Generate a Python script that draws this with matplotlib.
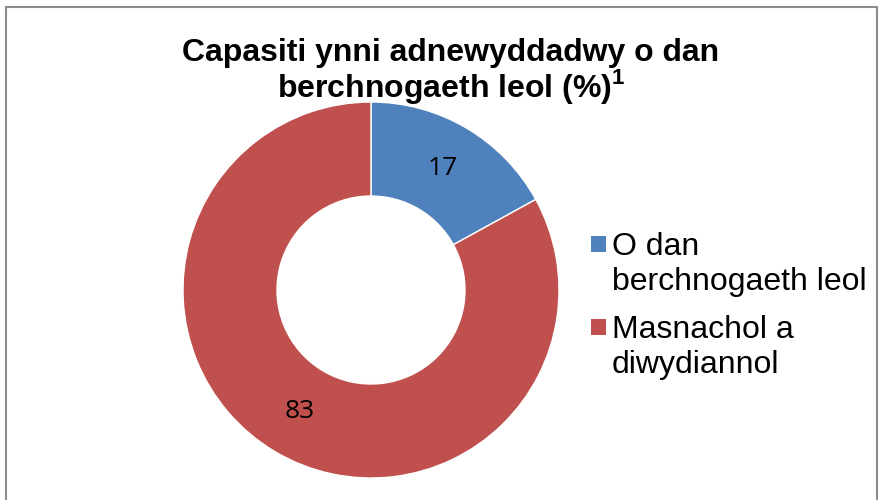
import matplotlib
matplotlib.use("Agg")
import matplotlib.pyplot as plt
from matplotlib.patches import Rectangle

plt.rcParams.update({
    "font.family": "Liberation Sans",
    "mathtext.fontset": "custom",
    "mathtext.rm": "Liberation Sans",
    "mathtext.bf": "Liberation Sans:bold",
})

categories = ["O dan\nberchnogaeth leol", "Masnachol a\ndiwydiannol"]
values = [17, 83]
colors = ["#4F81BD", "#C0504D"]
title = "Capasiti ynni adnewyddadwy o dan\nberchnogaeth leol (%)$^{\\mathbf{1}}$"

W, H = 883, 500
fig = plt.figure(figsize=(W / 100, H / 100), dpi=100)

# chart frame
fig.patches.append(Rectangle((6 / W, -0.1), 871 / W, 1.1 - 7 / H, transform=fig.transFigure,
                             fill=False, edgecolor="#8c8c8c", linewidth=1.5))

# donut: centre (371, 290) px, radius 188 px
cx, cy, r = 371, 290, 188
ax = fig.add_axes([(cx - r) / W, (H - cy - r) / H, 2 * r / W, 2 * r / H])
wedges, _, autotexts = ax.pie(values, colors=colors, startangle=90, counterclock=False,
                              radius=1, autopct=lambda p: f"{p:.0f}", pctdistance=0.75,
                              wedgeprops=dict(width=0.5, edgecolor="white", linewidth=1))
for t in autotexts:
    t.set_fontsize(19)
    t.set_family("Open Sans")
    t.set_color("black")
ax.set_xlim(-1, 1)
ax.set_ylim(-1, 1)
ax.set_aspect("equal")
ax.axis("off")

fig.text(451 / W, 1 - 72 / H, title, ha="center", va="center", fontsize=23,
         fontweight="bold", linespacing=0.97)

# legend, drawn by hand so the marker sits on the first line of each label
for i, (label, color) in enumerate(zip(categories, colors)):
    top = 232 + i * 83
    fig.patches.append(Rectangle((591 / W, 1 - (top + 20) / H), 15 / W, 16 / H,
                                 transform=fig.transFigure, facecolor=color, edgecolor="none"))
    fig.text(612 / W, 1 - top / H, label, ha="left", va="top", fontsize=23, linespacing=1.2)

fig.savefig("out.png", dpi=100)
